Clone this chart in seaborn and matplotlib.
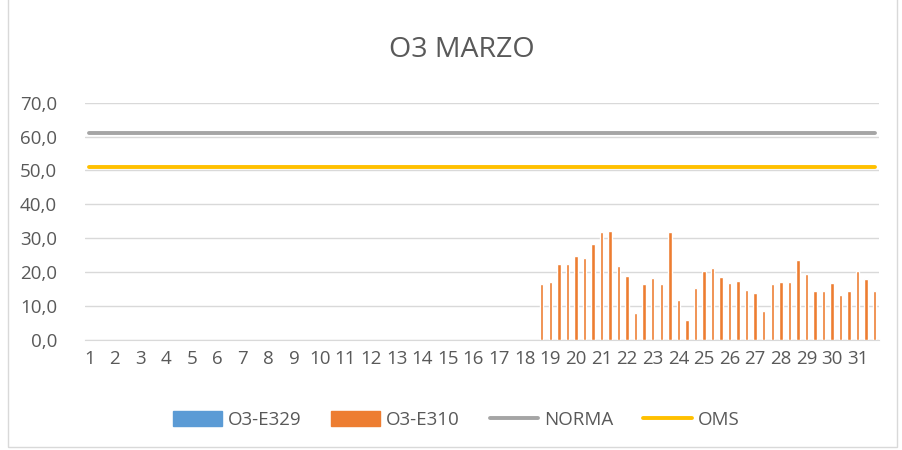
import numpy as np
import pandas as pd
import matplotlib
matplotlib.use('Agg')
import matplotlib.pyplot as plt
import seaborn as sns
from matplotlib.patches import Patch, Rectangle
from matplotlib.lines import Line2D
from matplotlib.ticker import FuncFormatter

# 31 days x 3 readings per day
days = list(range(1, 32))
slots_per_day = 3
n_slots = len(days) * slots_per_day

# O3-E310 readings (ppb), data starts at slot 53
e310_start = 53
e310 = [16.6, 17.2, 22.3, 22.3, 24.7, 24.3, 28.3, 31.8, 32.2, 21.9,
        18.9, 7.9, 16.5, 18.2, 16.5, 31.8, 11.8, 6.0, 15.4, 20.4,
        21.1, 18.6, 16.9, 17.5, 14.7, 14.0, 8.7, 16.6, 17.2, 17.2,
        23.6, 19.4, 14.4, 14.4, 16.9, 13.3, 14.4, 20.5, 17.9, 14.4]
e329 = []  # no data this month
norma = 61.2
oms = 51.0

slots = np.arange(n_slots)
vals = np.full(n_slots, np.nan)
vals[e310_start:e310_start + len(e310)] = e310
df = pd.DataFrame({'slot': slots, 'O3-E310': vals,
                   'NORMA': norma, 'OMS': oms})

sns.set_style('white')
plt.rcParams['font.family'] = ['Open Sans', 'DejaVu Sans']

fig = plt.figure(figsize=(9.02, 4.5), dpi=100)
ax = fig.add_axes([0.0942, 0.2444, 0.8803, 0.5274])

grey_txt = '#595959'
sns.barplot(data=df, x='slot', y='O3-E310', color='#ED7D31', width=0.4,
            saturation=1, ax=ax, zorder=3)
sns.lineplot(data=df, x='slot', y='NORMA', color='#A5A5A5', lw=2.8, ax=ax, zorder=4)
sns.lineplot(data=df, x='slot', y='OMS', color='#FFC000', lw=2.8, ax=ax, zorder=4)

ax.set_xlim(-0.5, n_slots - 0.5)
ax.set_ylim(0, 70)
ax.set_yticks(np.arange(0, 71, 10))
ax.yaxis.set_major_formatter(FuncFormatter(lambda v, p: f'{v:.1f}'.replace('.', ',')))
ax.set_xticks(np.arange(0, n_slots, slots_per_day))
ax.set_xticklabels([str(d) for d in days])
ax.tick_params(axis='both', length=0, labelsize=13.5, labelcolor=grey_txt)
ax.tick_params(axis='x', pad=7)
ax.tick_params(axis='y', pad=20)
ax.set_xlabel('')
ax.set_ylabel('')
ax.grid(axis='y', color='#D9D9D9', lw=1, zorder=0)
ax.set_axisbelow(True)
for s in ['top', 'right', 'left']:
    ax.spines[s].set_visible(False)
ax.spines['bottom'].set_color('#D9D9D9')

fig.text(0.512, 0.888, 'O3 MARZO', ha='center', va='center', fontsize=20.5, color=grey_txt)

handles = [Patch(color='#5B9BD5', label='O3-E329'),
           Patch(color='#ED7D31', label='O3-E310'),
           Line2D([], [], color='#A5A5A5', lw=2.8, label='NORMA'),
           Line2D([], [], color='#FFC000', lw=2.8, label='OMS')]
fig.legend(handles=handles, loc='center', bbox_to_anchor=(0.506, 0.067), ncol=4,
           frameon=False, fontsize=13.5, labelcolor=grey_txt, handlelength=2.6,
           handleheight=0.9, handletextpad=0.3, columnspacing=1.6)

fig.patches.append(Rectangle((0.009, 0.006), 0.986, 1.2, transform=fig.transFigure,
                             fill=False, edgecolor='#D9D9D9', lw=1))

fig.savefig('out.png', dpi=100)
